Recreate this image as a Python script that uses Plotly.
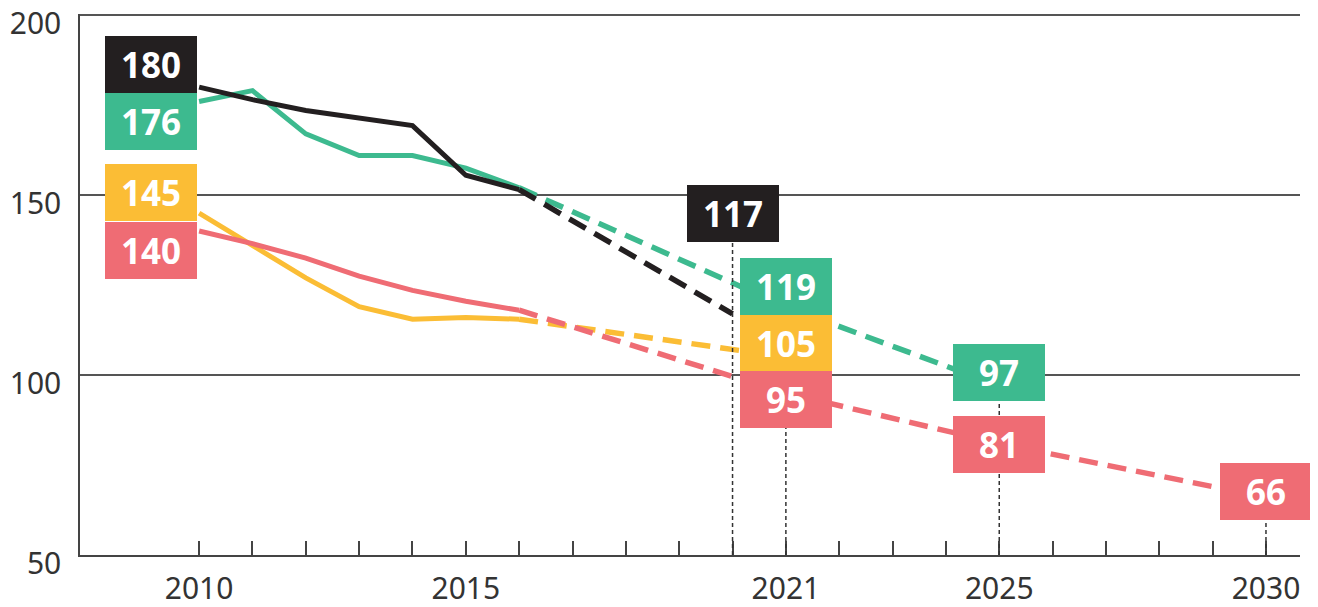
import plotly.graph_objects as go

# ---------------- data ----------------
years_hist = [2010, 2011, 2012, 2013, 2014, 2015, 2016]
black_hist = [180, 176.5, 173.5, 171.3, 169.3, 155.5, 151.5]
green_hist = [176, 179, 167, 161, 161, 157.5, 152]
yellow_hist = [145, 136, 127, 119, 115.5, 116, 115.5]
red_hist = [140, 136.5, 132.5, 127.5, 123.5, 120.5, 118]

black_proj_years = [2016, 2020]
black_proj = [151.5, 117]
green_proj_years = [2016, 2021, 2025]
green_proj = [152, 119, 97]
yellow_proj_years = [2016, 2021]
yellow_proj = [115.5, 105]
red_proj_years = [2016, 2021, 2025, 2030]
red_proj = [118, 95, 81, 66]

x_tick_labels = [2010, 2015, 2021, 2025, 2030]
y_tick_labels = [50, 100, 150, 200]

# ---------------- styles ----------------
COL = {"black": "#231f20", "green": "#3dba8f", "yellow": "#fbbd35", "red": "#ef6c74"}
FONT = "Noto Sans"
SOLID_W = 5
DASH_W = 5.5
DASH = "19px,10px"

fig = go.Figure()

series = [
    ("yellow", yellow_hist, yellow_proj_years, yellow_proj),
    ("red", red_hist, red_proj_years, red_proj),
    ("green", green_hist, green_proj_years, green_proj),
    ("black", black_hist, black_proj_years, black_proj),
]
for name, hist, py, pv in series:
    fig.add_trace(go.Scatter(x=py, y=pv, mode="lines",
                             line=dict(color=COL[name], width=DASH_W, dash=DASH),
                             hoverinfo="skip", showlegend=False))
    fig.add_trace(go.Scatter(x=years_hist, y=hist, mode="lines",
                             line=dict(color=COL[name], width=SOLID_W),
                             hoverinfo="skip", showlegend=False))

# ---------------- value labels ----------------
# (value, x, colour, vertical offset of the box centre in data units, anchor)
labels = [
    (black_hist[0], years_hist[0], "black", 6.25, "right"),
    (green_hist[0], years_hist[0], "green", -5.7, "right"),
    (yellow_hist[0], years_hist[0], "yellow", 5.8, "right"),
    (red_hist[0], years_hist[0], "red", -5.3, "right"),
    (black_proj[-1], black_proj_years[-1], "black", 27.9, "center"),
    (green_proj[1], green_proj_years[1], "green", 5.6, "center"),
    (yellow_proj[1], yellow_proj_years[1], "yellow", 3.75, "center"),
    (red_proj[1], red_proj_years[1], "red", -1.9, "center"),
    (green_proj[2], green_proj_years[2], "green", 3.6, "center"),
    (red_proj[2], red_proj_years[2], "red", -0.2, "center"),
    (red_proj[3], red_proj_years[3], "red", 1.6, "center"),
]

# vertical dashed drop lines under the projection labels
drops = [(black_proj_years[-1], black_proj[-1] + 27.9),
         (red_proj_years[1], red_proj[1] - 1.9),
         (green_proj_years[2], green_proj[2] + 3.6),
         (red_proj_years[3], red_proj[3] + 1.6)]
for xv, ytop in drops:
    fig.add_shape(type="line", xref="x", yref="y", x0=xv, x1=xv, y0=50, y1=ytop,
                  line=dict(color="#333333", width=1.5, dash="4px,3px"), layer="above")

for val, xv, c, off, anc in labels:
    fig.add_annotation(x=xv, y=val + off, xref="x", yref="y",
                       text=f"<b>{val:.0f}</b>", showarrow=False,
                       xanchor=anc, yanchor="middle", xshift=-2 if anc == "right" else 0,
                       width=92, height=57, borderpad=0, borderwidth=0,
                       bgcolor=COL[c], align="center", valign="middle",
                       font=dict(family=FONT, size=35, color="white"))

fig.update_layout(
    width=1310, height=599,
    margin=dict(l=72, r=18, t=6, b=52),
    paper_bgcolor="white", plot_bgcolor="white",
    font=dict(family=FONT, size=31, color="#333333"),
    showlegend=False,
)
fig.update_xaxes(
    range=[2007.767, 2030.638],
    tickmode="array", tickvals=x_tick_labels, ticktext=[str(v) for v in x_tick_labels],
    ticks="inside", ticklen=14, tickwidth=1.5, tickcolor="#444444",
    minor=dict(tickmode="array", tickvals=list(range(2010, 2031)), ticks="inside",
               ticklen=14, tickwidth=1.5, tickcolor="#444444", showgrid=False),
    showgrid=False, zeroline=False,
    showline=True, linecolor="#444444", linewidth=1.5,
    tickfont=dict(family=FONT, size=30, color="#333333"),
    ticklabelstandoff=6, automargin=False, ticklabeloverflow="allow",
)
fig.update_yaxes(
    range=[50, 200.3],
    tickmode="array", tickvals=y_tick_labels, ticktext=[str(v) for v in y_tick_labels],
    ticks="", showgrid=True, gridcolor="#555555", gridwidth=1.5, zeroline=False,
    showline=True, linecolor="#444444", linewidth=1.5,
    tickfont=dict(family=FONT, size=30, color="#333333"),
    ticklabelstandoff=11, ticklabelshift=8, automargin=False, ticklabeloverflow="allow",
)

fig.write_html("out.html")
